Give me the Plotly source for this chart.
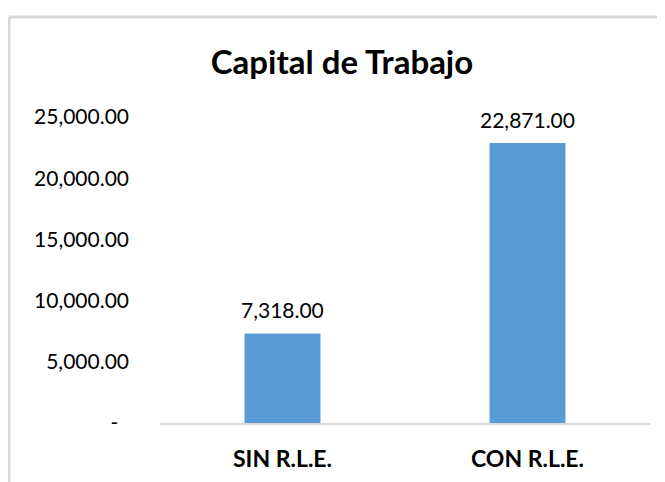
import plotly.graph_objects as go

# Data
categories = ["SIN R.L.E.", "CON R.L.E."]
values = [7318.00, 22871.00]
tick_vals = [0, 5000, 10000, 15000, 20000, 25000]
tick_text = ["-\u00a0\u00a0", "5,000.00", "10,000.00", "15,000.00", "20,000.00", "25,000.00"]

font_family = "Lato, 'Open Sans', sans-serif"

# plot area in div pixels (page has an 8px body margin)
L, T, PW, PH = 152, 109, 490, 306

fig = go.Figure(go.Bar(
    x=categories,
    y=values,
    marker=dict(color="#5B9BD5", line=dict(width=0)),
    width=0.31,
))

# data labels above the bars
for c, v in zip(categories, values):
    fig.add_annotation(
        x=c, y=v, text=f"{v:,.2f}", showarrow=False,
        yanchor="bottom", yshift=9,
        font=dict(size=21, color="#000000", family=font_family),
    )

fx = (1 - L) / PW
fy = (T + PH - 9) / PH

fig.update_layout(
    width=665,
    height=482,
    margin=dict(l=L, r=665 - L - PW, t=T, b=482 - T - PH),
    paper_bgcolor="white",
    plot_bgcolor="white",
    showlegend=False,
    title=dict(
        text="<b>Capital de Trabajo</b>",
        x=(342 - 8) / 665, xanchor="center",
        y=1 - 54 / 482, yanchor="middle",
        font=dict(size=33, color="#000000", family=font_family),
    ),
    # light gray chart frame (top and left edges visible)
    shapes=[
        dict(type="line", xref="paper", yref="paper",
             x0=fx, x1=1.2, y0=fy, y1=fy,
             line=dict(color="#d9d9d9", width=3)),
        dict(type="line", xref="paper", yref="paper",
             x0=fx, x1=fx, y0=fy, y1=-0.5,
             line=dict(color="#d9d9d9", width=3)),
    ],
)

fig.update_xaxes(
    showline=True, linecolor="#d9d9d9", linewidth=2,
    showgrid=False, ticks="",
    tickfont=dict(size=23, color="#000000", family=font_family),
    ticklabelstandoff=14,
    tickprefix="<b>", ticksuffix="</b>",
)

fig.update_yaxes(
    range=[0, 25000],
    tickvals=tick_vals, ticktext=tick_text,
    showgrid=False, showline=False, zeroline=False, ticks="",
    tickfont=dict(size=21, color="#000000", family=font_family),
    ticklabelstandoff=30,
)

fig.write_html("out.html")
